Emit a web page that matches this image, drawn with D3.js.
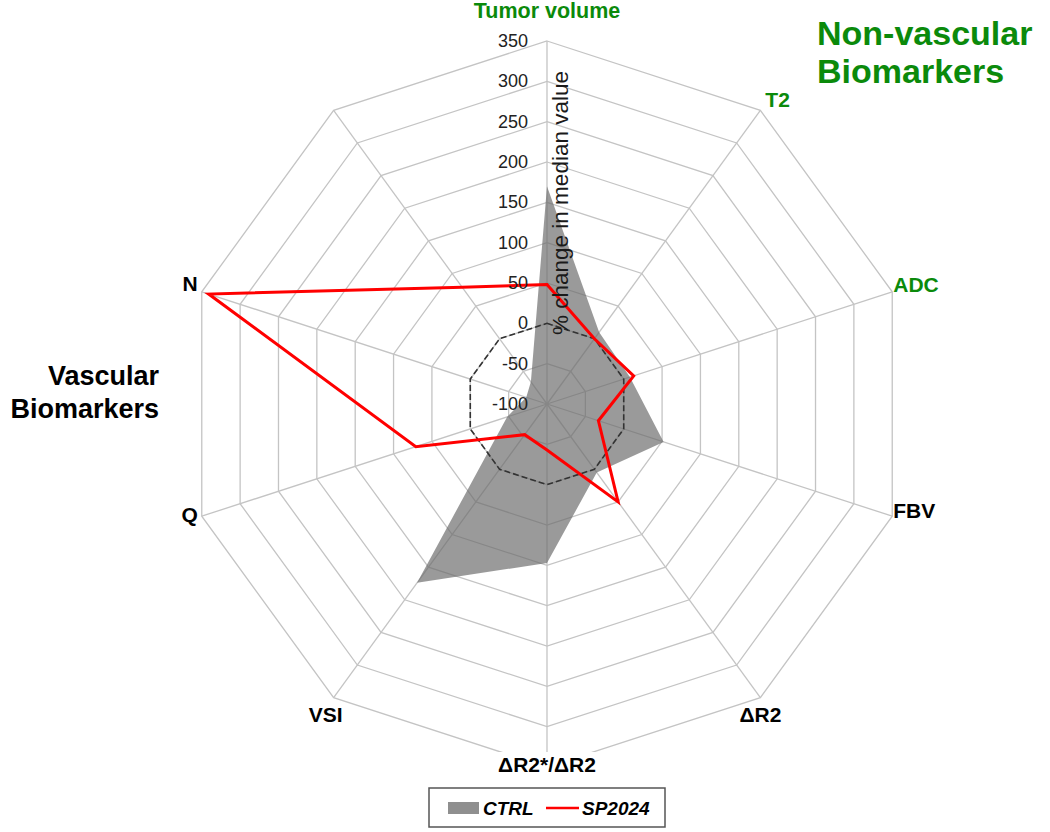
<!DOCTYPE html>
<html><head><meta charset="utf-8">
<script src="https://cdn.jsdelivr.net/npm/d3@7"></script>
<style>
body{margin:0;background:#fff;}
svg{display:block;}
text{font-family:"Liberation Sans",Arial,sans-serif;}
</style></head><body>
<svg id="chart" width="1050" height="832"></svg>
<script>
const axes = ["Tumor volume","T2","ADC","FBV","ΔR2","ΔR2*/ΔR2","VSI","Q","N",""];
const axisGroup = ["nv","nv","nv","v","v","v","v","v","v","v"];
const ctrl = [170,10,8,52,5,97,174,-48,-73,-66];
const sp2024 = [48,0,13,-33,50,-43,-53,71,341,79];
const ticks = [-100,-50,0,50,100,150,200,250,300,350];
const seriesNames = ["CTRL","SP2024"];

const svg = d3.select("#chart");
const cx = 547, cy = 404, R = 363;
const n = axes.length;
const r = d3.scaleLinear().domain([-100,350]).range([0,R]);
const ang = d3.scaleLinear().domain([0,n]).range([0,2*Math.PI]);
const g = svg.append("g").attr("transform",`translate(${cx},${cy})`);
const ring = d3.lineRadial().angle((d,i)=>ang(i)).radius(d=>r(d)).curve(d3.curveLinearClosed);
const pt = (i,v)=>[Math.sin(ang(i))*r(v), -Math.cos(ang(i))*r(v)];

// grid rings
g.selectAll("path.grid").data(ticks.slice(1)).join("path")
  .attr("class","grid")
  .attr("d",t=>ring(d3.range(n).map(()=>t)))
  .attr("fill","none").attr("stroke","#c4c4c4").attr("stroke-width",1.3);
// spokes
g.selectAll("line.spoke").data(axes).join("line")
  .attr("x1",0).attr("y1",0)
  .attr("x2",(d,i)=>pt(i,350)[0]).attr("y2",(d,i)=>pt(i,350)[1])
  .attr("stroke","#c4c4c4").attr("stroke-width",1.3);

// CTRL area
g.append("path").attr("d",ring(ctrl))
  .attr("fill","#6a6a6a").attr("fill-opacity",0.68).attr("stroke","none");

// zero dashed ring
g.append("path").attr("d",ring(d3.range(n).map(()=>0)))
  .attr("fill","none").attr("stroke","#333").attr("stroke-width",1.6)
  .attr("stroke-dasharray","6,3");

// SP2024 line
g.append("path").attr("d",ring(sp2024))
  .attr("fill","none").attr("stroke","#ff0000").attr("stroke-width",3)
  .attr("stroke-linejoin","miter");

// tick labels
g.selectAll("text.tick").data(ticks).join("text")
  .attr("class","tick")
  .attr("x",-19).attr("y",t=>-r(t)+6)
  .attr("text-anchor","end").attr("font-size",18).attr("fill","#222")
  .text(t=>t);

// axis title
svg.append("text")
  .attr("transform",`translate(568,203) rotate(-90)`)
  .attr("text-anchor","middle").attr("font-size",22.5).attr("fill","#1a1a1a")
  .text("% change in median value");

// category labels
const labelOff = [[0,-23,"middle"],[5,-3,"start"],[1,0,"start"],[1,2,"start"],[0,24,"middle"],[0,5,"middle"],[-8,24,"middle"],[-4,6,"end"],[-4,-1,"end"],[0,0,"middle"]];
const cats = g.selectAll("g.cat").data(axes).join("g").attr("class","cat");
cats.append("text")
  .attr("x",(d,i)=>pt(i,350)[0]+labelOff[i][0])
  .attr("y",(d,i)=>pt(i,350)[1]+labelOff[i][1])
  .attr("text-anchor",(d,i)=>labelOff[i][2])
  .attr("font-size",(d,i)=>i===0?21.5:21).attr("font-weight","bold")
  .attr("fill",(d,i)=>axisGroup[i]==="nv"?"#0b8a0b":"#000")
  .text(d=>d)
  .each(function(d,i){
    if(i===5){
      const b=this.getBBox();
      d3.select(this.parentNode).insert("rect","text")
        .attr("x",b.x-2).attr("y",b.y-1).attr("width",b.width+4).attr("height",b.height+2)
        .attr("fill","#fff");
    }
  });

// group titles
const t1 = svg.append("text").attr("x",817).attr("font-size",34).attr("font-weight","bold").attr("fill","#0b8a0b");
t1.append("tspan").attr("x",817).attr("y",45).text("Non-vascular");
t1.append("tspan").attr("x",817).attr("y",83).text("Biomarkers");
const t2 = svg.append("text").attr("text-anchor","end").attr("font-size",27).attr("font-weight","bold").attr("fill","#000");
t2.append("tspan").attr("x",159).attr("y",385).text("Vascular");
t2.append("tspan").attr("x",159).attr("y",418).text("Biomarkers");

// legend
const lg = svg.append("g");
lg.append("rect").attr("x",429).attr("y",788).attr("width",236).attr("height",39)
  .attr("fill","#fff").attr("stroke","#555").attr("stroke-width",1.5);
lg.append("rect").attr("x",448).attr("y",802).attr("width",31).attr("height",12).attr("fill","#8f8f8f");
lg.append("text").attr("x",483).attr("y",815).attr("font-size",19).attr("font-weight","bold").attr("font-style","italic").text(seriesNames[0]);
lg.append("line").attr("x1",546).attr("x2",579).attr("y1",808).attr("y2",808).attr("stroke","#ff0000").attr("stroke-width",2.5);
lg.append("text").attr("x",582).attr("y",815).attr("font-size",19).attr("font-weight","bold").attr("font-style","italic").text(seriesNames[1]);
</script>
</body></html>
